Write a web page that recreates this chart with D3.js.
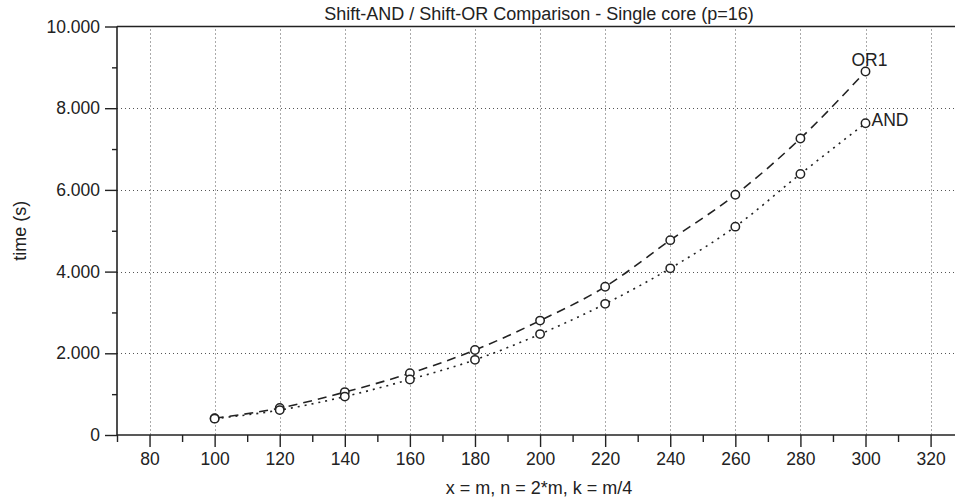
<!DOCTYPE html>
<html><head><meta charset="utf-8">
<script src="https://cdn.jsdelivr.net/npm/d3@7"></script>
<style>
html,body{margin:0;padding:0;background:#fff;}
svg{display:block;}
text{font-family:"Liberation Sans",Arial,Helvetica,sans-serif;fill:#222;}
</style></head>
<body><svg id="chart" width="955" height="503"></svg>
<script>
const xValues = [100,120,140,160,180,200,220,240,260,280,300];
const or1Values = [410,660,1050,1510,2080,2800,3630,4770,5880,7260,8900];
const andValues = [400,610,940,1360,1840,2470,3210,4080,5100,6390,7630];
const xMajorTicks = [80,100,120,140,160,180,200,220,240,260,280,300,320];
const xMinorTicks = [70,90,110,130,150,170,190,210,230,250,270,290,310];
const yMajorTicks = [0,2000,4000,6000,8000,10000];
const yMinorTicks = [1000,3000,5000,7000,9000];
const yGridTicks = [2000,4000,6000,8000];
const seriesNames = ["OR1","AND"];
const titleText = "Shift-AND / Shift-OR Comparison - Single core (p=16)";
const xLabelText = "x = m, n = 2*m, k = m/4";
const yLabelText = "time (s)";

(function(){
const svg = d3.select("#chart");
const pL = 117, pR = 955, pT = 26.5, pB = 435;
const x = d3.scaleLinear().domain([70, 327.5]).range([pL, pR]);
const y = d3.scaleLinear().domain([0, 10000]).range([pB, pT]);
const fmt = d3.formatLocale({decimal:",", thousands:".", grouping:[3], currency:["","€"]}).format(",d");
const ink = "#222";
const fs = "17.5px";
const ff = '"Liberation Sans",Arial,Helvetica,sans-serif';

// grid
const grid = svg.append("g").attr("stroke", "#555").attr("stroke-width", 1).attr("stroke-dasharray", "1,3");
grid.selectAll("line.v").data(xMajorTicks).join("line").attr("class","v")
  .attr("x1", d => Math.round(x(d))+0.5).attr("x2", d => Math.round(x(d))+0.5)
  .attr("y1", pT+3).attr("y2", pB);
grid.selectAll("line.h").data(yGridTicks).join("line").attr("class","h")
  .attr("y1", d => Math.round(y(d))+0.5).attr("y2", d => Math.round(y(d))+0.5)
  .attr("x1", pL).attr("x2", pR);

// top border
svg.append("line").attr("x1", pL).attr("x2", pR).attr("y1", pT).attr("y2", pT)
  .attr("stroke", ink).attr("stroke-width", 1.6);

// x axis
const xAxisMinor = svg.append("g").attr("transform", `translate(0,${pB})`)
  .call(d3.axisBottom(x).tickValues(xMinorTicks).tickSize(7).tickFormat(""));
const xAxis = svg.append("g").attr("transform", `translate(0,${pB})`)
  .call(d3.axisBottom(x).tickValues(xMajorTicks).tickSize(12).tickPadding(6).tickFormat(d3.format("d")));
// y axis
const yAxisMinor = svg.append("g").attr("transform", `translate(${pL},0)`)
  .call(d3.axisLeft(y).tickValues(yMinorTicks).tickSize(5).tickFormat(""));
const yAxis = svg.append("g").attr("transform", `translate(${pL},0)`)
  .call(d3.axisLeft(y).tickValues(yMajorTicks).tickSize(12).tickPadding(5).tickFormat(fmt));

[xAxisMinor, xAxis, yAxisMinor, yAxis].forEach(g => {
  g.selectAll("path.domain").attr("stroke", ink).attr("stroke-width", 1.6);
  g.selectAll(".tick line").attr("stroke", ink).attr("stroke-width", 1.4);
  g.selectAll(".tick text").attr("fill", ink).style("font-size", fs).style("font-family", ff);
});
xAxisMinor.select("path.domain").remove();
yAxisMinor.select("path.domain").remove();
yAxis.select("path.domain").attr("d", `M0,${pT}V${pB}`);
xAxis.select("path.domain").attr("d", `M${pL},0H${pR}`);

// lines
const line = d3.line().x(d => x(d[0])).y(d => y(d[1])).curve(d3.curveMonotoneX);
const orData = xValues.map((v,i) => [v, or1Values[i]]);
const andData = xValues.map((v,i) => [v, andValues[i]]);
svg.append("path").datum(orData).attr("d", line).attr("fill","none")
  .attr("stroke", ink).attr("stroke-width", 1.6).attr("stroke-dasharray", "9,6");
svg.append("path").datum(andData).attr("d", line).attr("fill","none")
  .attr("stroke", ink).attr("stroke-width", 1.6).attr("stroke-dasharray", "2,5");

[orData, andData].forEach(data => {
  svg.append("g").selectAll("circle").data(data).join("circle")
    .attr("cx", d => x(d[0])).attr("cy", d => y(d[1])).attr("r", 4.2)
    .attr("fill", "#fff").attr("stroke", ink).attr("stroke-width", 1.5);
});

// series labels
const lastOr = orData[orData.length-1], lastAnd = andData[andData.length-1];
svg.append("text").attr("x", x(lastOr[0]) + 4).attr("y", y(lastOr[1]) - 5)
  .attr("text-anchor","middle").style("font-size", fs).text(seriesNames[0]);
svg.append("text").attr("x", x(lastAnd[0]) + 6).attr("y", y(lastAnd[1]) + 3)
  .attr("text-anchor","start").style("font-size", fs).text(seriesNames[1]);

// title & axis labels
svg.append("text").attr("x", 539).attr("y", 20).attr("text-anchor","middle")
  .style("font-size", "18px").text(titleText);
svg.append("text").attr("x", 539).attr("y", 494).attr("text-anchor","middle")
  .style("font-size", "18px").text(xLabelText);
svg.append("text").attr("transform", `translate(20,${(pT+pB)/2}) rotate(-90)`)
  .attr("dy","0.35em").attr("text-anchor","middle").style("font-size", "18px").text(yLabelText);
})();
</script></body></html>
